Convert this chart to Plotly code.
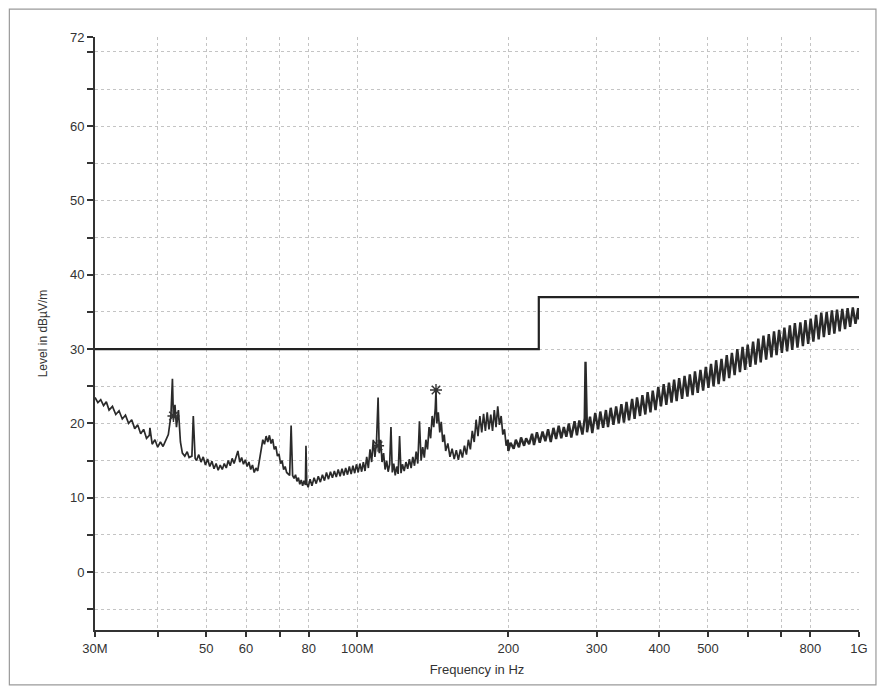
import plotly.graph_objects as go

# ---------------- data (MHz, dBµV/m) ----------------
# 30 MHz - 200 MHz part of the measured trace
freq_low_mhz = [
    30.0, 30.4, 30.8, 31.2, 31.6, 32.0, 32.5, 33.0, 33.5, 34.0, 34.5, 35.0, 35.5, 36.0, 36.5,
    37.0, 37.5, 38.0, 38.5, 38.6, 39.0, 39.5, 40.0, 40.5, 41.0, 41.5, 42.0, 42.5, 42.8, 43.0,
    43.3, 43.6, 44.0, 44.4, 44.8, 45.3, 45.8, 46.2, 46.8, 47.1, 47.5, 47.8, 48.3, 48.8, 49.3,
    49.8, 50.3, 50.8, 51.3, 51.8, 52.3, 52.8, 53.3, 53.8, 54.3, 54.8, 55.3, 55.8, 56.3, 56.8,
    57.3, 57.8, 58.3, 58.8, 59.3, 59.8, 60.3, 60.8, 61.3, 61.8, 62.3, 62.8, 63.3, 63.8, 64.3,
    64.8, 65.3, 65.8, 66.3, 66.8, 67.3, 67.8, 68.3, 68.8, 69.3, 69.8, 70.3, 70.8, 71.3, 71.8,
    72.3, 73.3, 73.8, 74.3, 74.8, 75.3, 75.8, 76.3, 76.8, 77.3, 77.8, 78.3, 78.8, 79.0, 79.3,
    79.8, 80.5, 81.2, 82.0, 82.8, 83.6, 84.4, 85.2, 86.0, 86.8, 87.6, 88.4, 89.2, 90.0, 90.8,
    91.6, 92.4, 93.2, 94.0, 94.8, 95.6, 96.4, 97.2, 98.0, 98.8, 99.6, 100.4, 101.2, 102.0, 102.8,
    103.6, 104.4, 105.2, 106.0, 106.8, 107.6, 108.4, 109.2, 110.0, 110.6, 111.3, 112.0, 112.8, 113.6, 114.4,
    115.2, 116.0, 116.7, 117.4, 118.2, 119.0, 119.8, 120.6, 121.4, 122.2, 123.0, 124.0, 125.0, 126.0, 127.0,
    128.0, 129.0, 130.0, 131.0, 132.0, 133.0, 134.0, 135.0, 136.0, 137.0, 138.0, 139.0, 140.0, 141.0, 142.0,
    143.0, 143.5, 144.0, 145.0, 146.0, 147.0, 148.0, 149.0, 150.0, 151.5, 153.0, 154.5, 156.0, 157.5, 159.0,
    160.5, 162.0, 163.5, 165.0, 166.5, 168.0, 169.5, 171.0, 172.5, 174.0, 175.5, 177.0, 178.5, 180.0, 181.5,
    183.0, 184.5, 186.0, 187.5, 189.0, 190.5, 192.0, 193.5, 195.0, 196.5, 198.0, 199.5,
]
level_low = [
    23.5, 22.8, 23.2, 22.4, 22.9, 21.8, 22.3, 21.2, 21.7, 20.6, 21.1, 20.0, 20.5, 19.3, 19.8,
    18.6, 19.2, 18.0, 18.4, 19.4, 17.2, 17.8, 16.8, 17.5, 16.9, 17.6, 18.5, 21.0, 26.0, 20.5,
    22.5, 19.5, 21.8, 17.5, 16.0, 15.6, 16.2, 15.4, 15.6, 21.0, 15.3, 15.0, 15.8, 14.8, 15.5,
    14.4, 15.2, 14.2, 14.9, 13.9, 14.6, 13.7, 14.4, 13.8, 14.6, 14.0, 15.0, 14.3, 15.3, 14.6,
    15.6, 16.3, 14.8, 15.4, 14.5, 15.1, 14.2, 14.8, 13.8, 14.4, 13.4, 14.0, 13.6, 15.2, 16.5,
    17.8, 17.2, 18.3, 17.5, 18.4, 17.3, 17.9, 16.5, 16.9, 15.6, 15.9, 14.6, 15.0, 13.8, 14.2,
    13.4, 13.0, 19.7, 13.0, 12.6, 13.1, 12.2, 12.7, 11.8, 12.4, 11.6, 12.3, 11.7, 17.0, 11.9,
    11.4, 12.5, 11.6, 12.7, 11.9, 12.9, 12.1, 13.1, 12.3, 13.4, 12.5, 13.5, 12.7, 13.6, 12.8,
    13.8, 12.9, 13.9, 13.0, 14.0, 13.1, 14.2, 13.2, 14.3, 13.3, 14.5, 13.4, 14.6, 13.5, 14.8,
    13.6, 15.5, 14.0, 16.5, 14.8, 17.8, 15.5, 17.5, 23.5, 16.0, 17.8, 14.8, 16.0, 13.8, 15.0,
    13.5, 14.5, 19.5, 13.4, 14.6, 13.0, 14.2, 13.2, 18.3, 13.3, 14.5, 13.6, 14.8, 13.9, 15.2,
    14.0, 15.5, 14.3, 16.2, 14.6, 20.3, 15.0, 16.8, 15.4, 17.8, 16.5, 19.5, 18.0, 21.0, 19.5,
    22.0, 24.5, 20.0, 21.5, 18.8, 20.2, 17.5, 18.5, 16.3, 17.3, 15.5, 16.6, 15.2, 16.4, 15.1,
    16.5, 15.4, 17.0, 15.8, 17.8, 16.5, 19.0, 17.5, 20.5, 18.3, 21.0, 18.8, 21.3, 19.0, 21.5,
    19.2, 21.2, 19.0, 21.8, 19.5, 22.3, 19.8, 21.0, 18.5, 19.2, 17.0, 17.8,
]

# 200 MHz - 1 GHz part of the measured trace
freq_high_mhz = [
    199.5, 200, 202, 205, 207, 210, 212, 215, 217, 220, 223,
    225, 228, 231, 234, 237, 240, 243, 246, 249, 252,
    255, 258, 261, 264, 267, 271, 274, 277, 281, 284,
    285, 287, 291, 294, 298, 302, 305, 309, 313, 316,
    320, 324, 328, 332, 336, 340, 344, 348, 353, 357,
    361, 366, 370, 375, 379, 384, 388, 393, 398, 403,
    408, 413, 418, 423, 428, 433, 438, 444, 449, 455,
    460, 466, 471, 477, 483, 489, 495, 501, 507, 513,
    519, 525, 532, 538, 545, 551, 558, 565, 572, 579,
    586, 593, 600, 607, 615, 622, 630, 637, 645, 653,
    661, 669, 677, 685, 693, 702, 710, 719, 728, 736,
    745, 754, 764, 773, 782, 792, 801, 811, 821, 831,
    841, 851, 862, 872, 883, 893, 904, 915, 926, 938,
    949, 960, 972, 984, 996, 1000,
]
level_high = [
    17.8, 16.3, 17.4, 16.6, 17.8, 16.8, 18.1, 17.0, 18.0, 17.2, 18.6,
    17.1, 18.8, 17.4, 18.9, 17.6, 19.2, 17.5, 19.4, 17.9, 19.7,
    18.0, 19.5, 18.2, 20.0, 18.1, 20.3, 18.4, 20.4, 18.5, 20.7,
    28.3, 18.8, 20.9, 18.7, 21.4, 19.2, 21.6, 19.4, 21.8, 19.5,
    22.1, 19.8, 22.3, 20.0, 22.6, 20.1, 22.9, 20.4, 23.3, 20.6,
    23.5, 21.0, 23.8, 21.2, 24.2, 21.5, 24.4, 21.8, 24.9, 22.3,
    25.3, 22.5, 25.5, 22.8, 25.9, 23.0, 26.1, 23.3, 26.4, 23.6,
    26.6, 23.8, 27.0, 24.1, 27.2, 24.4, 27.6, 24.8, 28.0, 25.0,
    28.5, 25.3, 28.7, 25.7, 29.2, 26.1, 29.5, 26.5, 30.0, 26.9,
    30.3, 27.2, 30.6, 27.6, 31.0, 27.9, 31.4, 28.2, 31.8, 28.6,
    32.0, 28.9, 32.4, 29.2, 32.6, 29.5, 32.9, 29.7, 33.2, 29.9,
    33.5, 30.2, 33.6, 30.4, 33.9, 30.7, 34.1, 31.0, 34.6, 31.3,
    34.9, 31.6, 35.0, 31.9, 35.2, 32.1, 35.3, 32.4, 35.4, 32.7,
    35.5, 33.0, 35.6, 33.4, 35.5, 34.0,
]

limit_freq_mhz = [30, 230, 230, 1000]
limit_level = [30, 30, 37, 37]

marker_freq_mhz = [43.0, 110.0, 143.5]
marker_level = [21.0, 17.0, 24.5]

x_tick_mhz = [30, 40, 50, 60, 70, 80, 100, 200, 300, 400, 500, 600, 700, 800, 1000]
x_tick_text = ["30M", "", "50", "60", "", "80", "100M", "200", "300", "400", "500", "", "", "800", "1G"]
y_tick_vals = [-5, 0, 5, 10, 15, 20, 25, 30, 35, 40, 45, 50, 55, 60, 65, 70, 72]
y_tick_text = ["", "0", "", "10", "", "20", "", "30", "", "40", "", "50", "", "60", "", "", "72"]

# ---------------- figure ----------------
M = 1e6
assert len(freq_low_mhz) == len(level_low)
assert len(freq_high_mhz) == len(level_high)

fig = go.Figure()

fig.add_trace(go.Scatter(
    x=[f * M for f in freq_low_mhz], y=level_low, mode="lines",
    line=dict(color="#2a2a2a", width=1.7), showlegend=False))

fig.add_trace(go.Scatter(
    x=[f * M for f in freq_high_mhz], y=level_high, mode="lines",
    line=dict(color="#2a2a2a", width=2.4), showlegend=False))

fig.add_trace(go.Scatter(
    x=[f * M for f in limit_freq_mhz], y=limit_level, mode="lines",
    line=dict(color="#222222", width=2.2), showlegend=False))

fig.add_trace(go.Scatter(
    x=[f * M for f in marker_freq_mhz], y=marker_level, mode="markers",
    marker=dict(symbol="asterisk-open", size=10, color="#333333",
                line=dict(color="#333333", width=1.4)),
    showlegend=False))

font = "Liberation Sans, Arial, sans-serif"

fig.update_layout(
    width=872, height=679,
    margin=dict(l=87, r=18, t=29, b=56),
    paper_bgcolor="white", plot_bgcolor="white",
    font=dict(family=font, size=13, color="#333333"),
    xaxis=dict(
        type="log",
        range=[7.4771, 9.0],
        tickvals=[f * M for f in x_tick_mhz], ticktext=x_tick_text,
        ticks="outside", ticklen=5, tickwidth=1.5, tickcolor="#333",
        showline=True, linecolor="#333", linewidth=1.8,
        showgrid=True, gridcolor="#c4c4c4", gridwidth=1, griddash="dot",
        zeroline=False,
        title=dict(text="Frequency in Hz", font=dict(size=13), standoff=10),
    ),
    yaxis=dict(
        range=[-7.8, 72],
        tickvals=y_tick_vals, ticktext=y_tick_text,
        ticks="outside", ticklen=6, tickwidth=1.5, tickcolor="#333",
        showline=True, linecolor="#333", linewidth=1.8,
        showgrid=True, gridcolor="#c4c4c4", gridwidth=1, griddash="dot",
        zeroline=False,
        title=dict(text="Level in dBµV/m", font=dict(size=12), standoff=20),
    ),
    shapes=[dict(type="rect", xref="paper", yref="paper",
                 x0=-0.1121, x1=1.0222, y0=-0.0926, y1=1.0471,
                 line=dict(color="#9a9a9a", width=1.2), layer="below")],
)

fig.write_html("out.html")
